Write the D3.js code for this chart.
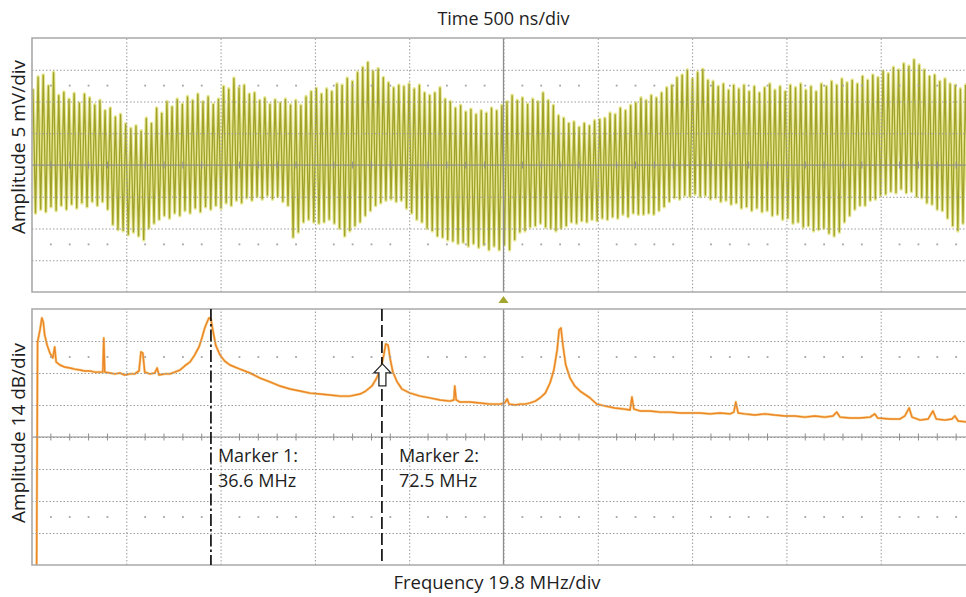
<!DOCTYPE html>
<html>
<head>
<meta charset="utf-8">
<script src="https://cdn.jsdelivr.net/npm/d3@7"></script>
<style>
  html, body { margin: 0; padding: 0; background: #ffffff; overflow: hidden; }
  svg { display: block; }
  text { font-family: "Open Sans", "Noto Sans", sans-serif; fill: #1e1e1e; }
</style>
</head>
<body>
<svg id="chart" width="966" height="597"></svg>
<script>
// ---------- Time domain: crest / trough of every 36.6 MHz cycle (mV) ----------
const waveHigh = [
  12.0, 13.9, 14.2, 12.5, 14.6, 11.0, 11.5, 10.4, 11.3, 9.8,
  11.2, 10.6, 9.5, 10.2, 8.6, 9.0, 7.6, 8.0, 6.5, 5.8,
  6.2, 5.4, 7.4, 6.6, 9.0, 8.2, 10.0, 9.2, 10.4, 9.6,
  10.8, 10.2, 11.2, 10.0, 10.8, 9.6, 10.4, 12.4, 12.0, 13.7,
  12.2, 12.6, 11.2, 11.4, 10.2, 10.6, 9.6, 10.3, 9.8, 10.4,
  9.5, 10.2, 9.4, 10.8, 11.6, 12.1, 11.2, 12.0, 11.6, 12.8,
  12.6, 13.7, 13.2, 14.6, 15.4, 16.2, 14.8, 15.2, 13.8, 13.0,
  12.2, 12.6, 12.4, 12.8, 12.0, 12.6, 11.4, 11.0, 11.4, 12.2,
  10.4, 10.0, 9.0, 9.4, 8.4, 8.8, 8.0, 8.6, 8.2, 9.0,
  8.6, 9.4, 10.0, 11.0, 10.2, 10.6, 9.6, 10.4, 10.0, 11.4,
  10.2, 9.4, 7.8, 7.4, 6.6, 6.8, 6.0, 6.6, 6.2, 7.0,
  7.2, 7.4, 8.2, 8.0, 9.0, 8.6, 9.4, 9.8, 10.6, 10.2,
  11.0, 10.6, 11.4, 12.2, 12.6, 13.8, 14.2, 15.0, 13.6, 14.6,
  15.1, 13.4, 13.2, 12.4, 12.8, 11.8, 12.6, 12.0, 12.6, 11.6,
  12.4, 11.4, 12.2, 12.8, 11.8, 12.4, 11.6, 12.6, 12.2, 12.8,
  11.8, 12.4, 11.6, 12.8, 12.4, 13.2, 12.6, 13.6, 13.0, 13.4,
  12.8, 14.0, 13.4, 14.2, 13.8, 14.8, 14.4, 15.4, 15.0, 16.0,
  15.6, 16.6, 15.8, 15.0, 14.0, 14.2, 13.2, 13.6, 12.8, 12.6,
  12.0, 12.6
];
const waveLow = [
  -7.6, -7.0, -7.4, -6.6, -7.2, -6.4, -7.0, -6.2, -6.8, -6.0,
  -6.6, -5.8, -6.4, -5.8, -7.0, -9.4, -10.2, -10.4, -11.0, -10.6,
  -11.2, -11.8, -10.0, -9.2, -8.6, -8.0, -8.4, -7.6, -8.0, -7.2,
  -7.6, -6.8, -7.4, -6.6, -7.0, -6.4, -6.8, -6.0, -6.4, -5.6,
  -6.0, -5.2, -5.6, -5.0, -5.4, -4.8, -5.4, -5.0, -5.8, -6.4,
  -11.4, -10.6, -9.0, -8.6, -9.0, -9.2, -9.0, -8.6, -9.2, -10.0,
  -11.2, -10.4, -9.6, -9.0, -8.0, -7.2, -6.4, -6.0, -5.6, -5.4,
  -5.8, -5.6, -6.8, -7.6, -8.6, -9.0, -10.0, -10.4, -11.2, -11.4,
  -11.8, -12.0, -12.4, -12.2, -12.8, -12.4, -13.0, -12.6, -13.4, -12.8,
  -13.4, -12.6, -13.4, -11.8, -10.6, -10.4, -9.8, -9.6, -9.2, -9.8,
  -10.0, -10.4, -10.0, -9.6, -9.0, -9.2, -8.8, -9.0, -8.6, -8.8,
  -8.4, -8.6, -8.2, -8.4, -7.8, -8.2, -7.6, -7.8, -7.8, -7.6,
  -7.8, -7.2, -6.6, -5.8, -5.2, -5.4, -4.8, -5.0, -4.6, -5.0,
  -4.8, -5.4, -5.2, -5.8, -5.6, -6.2, -6.0, -6.8, -6.6, -7.2,
  -6.8, -7.4, -7.2, -8.0, -7.8, -8.6, -8.4, -9.2, -9.0, -9.8,
  -9.6, -10.4, -10.2, -10.0, -10.8, -11.2, -10.6, -9.0, -8.0, -7.0,
  -6.4, -6.4, -5.6, -5.4, -4.8, -4.6, -4.2, -4.4, -3.8, -4.4,
  -4.2, -5.0, -5.2, -6.0, -6.2, -7.0, -7.2, -8.4, -9.6, -10.4,
  -9.2, -8.2
];
const cyclePeriodNs = 27.32;   // 1 / 36.6 MHz
const firstCrestNs = 5;
const timeTicksNs = [0, 500, 1000, 1500, 2000, 2500, 3000, 3500, 4000, 4500, 5000];
const voltTicksMv = [-20, -15, -10, -5, 0, 5, 10, 15, 20];

// ---------- Frequency domain: spectrum trace ----------
const spectrumFreq = [
  0, 0.2, 0.7, 1.1, 1.4, 1.7, 2.2, 2.8, 3.4, 3.8,
  4.1, 4.9, 5.9, 7.0, 8.0, 9.1, 10.1, 11.2, 12.2, 13.3,
  13.9, 14.1, 14.3, 15.4, 16.4, 17.5, 18.5, 19.6, 20.6, 21.5,
  21.9, 22.3, 22.7, 23.8, 24.8, 25.3, 25.7, 26.9, 28.0, 29.0,
  30.1, 31.1, 32.2, 33.2, 34.1, 34.7, 35.3, 35.8, 36.2, 36.6,
  37.0, 37.6, 38.5, 39.5, 40.6, 42.7, 44.8, 46.9, 49.0, 51.1,
  53.2, 55.3, 57.4, 59.5, 61.6, 63.7, 65.8, 67.9, 69.1, 70.4,
  71.4, 72.3, 72.9, 73.3, 73.8, 74.2, 74.8, 75.7, 76.7, 78.4,
  80.5, 82.6, 84.7, 86.8, 87.6, 87.8, 88.1, 88.9, 91.0, 93.1,
  95.2, 97.3, 98.3, 98.8, 99.2, 100.5, 101.5, 102.6, 103.6, 104.7,
  105.7, 106.8, 107.8, 108.6, 109.3, 109.7, 110.1, 110.5, 111.1, 112.0,
  113.0, 114.1, 116.2, 117.6, 119.3, 121.4, 123.5, 124.6, 125.0, 125.4,
  126.7, 128.8, 130.9, 133.0, 135.1, 137.2, 139.3, 141.4, 143.5, 145.6,
  146.4, 146.8, 147.3, 148.7, 150.8, 152.9, 155.0, 157.1, 159.2, 161.3,
  163.4, 165.5, 167.2, 168.0, 168.7, 170.8, 172.9, 175.0, 176.0, 176.6,
  179.2, 181.3, 182.3, 183.2, 183.8, 185.5, 187.2, 188.2, 188.9, 190.7,
  192.2, 192.8, 193.5, 195.2, 197.0
];
const spectrumDb = [
  -112, -14.4, -9.2, -3.9, -5.7, -11.4, -15.8, -19.3, -21.4, -16.6,
  -23.2, -24.5, -25.4, -25.8, -26.3, -26.7, -27.1, -27.1, -27.6, -27.6,
  -27.6, -12.7, -27.6, -28.0, -28.4, -28.0, -28.9, -28.4, -28.4, -27.1,
  -18.8, -19.3, -27.6, -28.4, -28.0, -25.8, -28.9, -28.4, -28.4, -27.6,
  -26.7, -24.9, -23.2, -20.1, -16.6, -12.7, -8.3, -5.7, -3.9, -4.4,
  -9.2, -15.8, -20.1, -22.8, -24.5, -26.3, -28.0, -30.2, -31.9, -33.7,
  -35.0, -35.9, -36.8, -37.2, -37.6, -38.1, -38.1, -37.2, -35.9, -33.7,
  -30.2, -25.8, -20.1, -15.3, -15.8, -21.4, -27.6, -31.9, -35.0, -36.8,
  -38.1, -38.9, -39.8, -40.3, -39.8, -33.7, -39.8, -40.7, -40.7, -41.1,
  -41.6, -41.6, -41.1, -39.4, -41.6, -42.0, -41.6, -41.6, -41.1, -40.3,
  -38.9, -36.8, -32.4, -26.7, -17.9, -9.2, -8.3, -15.8, -24.5, -30.2,
  -33.7, -35.9, -38.9, -41.6, -42.4, -43.3, -43.8, -44.2, -38.5, -43.8,
  -44.6, -44.6, -45.1, -45.1, -45.5, -45.5, -45.5, -45.9, -45.5, -45.9,
  -45.1, -40.7, -45.5, -45.9, -46.4, -45.9, -46.4, -46.8, -46.8, -47.3,
  -46.8, -47.3, -46.8, -45.1, -47.3, -47.7, -47.7, -47.3, -45.9, -47.7,
  -48.1, -48.1, -46.8, -43.3, -47.3, -48.6, -48.1, -44.6, -48.1, -48.6,
  -48.1, -46.8, -49.0, -49.4, -49.9
];
const freqTicksMhz = [-0.97, 18.83, 38.63, 58.43, 78.23, 98.03, 117.83, 137.63, 157.43, 177.23, 197.03];
const dbTicks = [-112, -98, -84, -70, -56, -42, -28, -14, 0];

const markerFreq = [36.6, 72.5];
const markerName = ["Marker 1:", "Marker 2:"];
const cursorDb = -24;

const timeTitle = "Time 500 ns/div";
const freqTitle = "Frequency 19.8 MHz/div";
const voltTitle = "Amplitude 5 mV/div";
const dbTitle = "Amplitude 14 dB/div";

// ---------- layout ----------
const plotLeft = 32, plotRight = 975;
const topPanel = { y0: 38, y1: 292 };
const botPanel = { y0: 309, y1: 565 };

const svg = d3.select("#chart");

const xTime = d3.scaleLinear().domain([0, 5000]).range([plotLeft, plotRight]);
const yWave = d3.scaleLinear().domain([-20, 20]).range([topPanel.y1, topPanel.y0]);
const xFreq = d3.scaleLinear().domain([-0.97, 197.03]).range([plotLeft, plotRight]);
const yDb = d3.scaleLinear().domain([-112, 0]).range([botPanel.y1, botPanel.y0]);

const defs = svg.append("defs");
defs.append("clipPath").attr("id", "clipTop").append("rect")
  .attr("x", plotLeft).attr("y", topPanel.y0)
  .attr("width", plotRight - plotLeft).attr("height", topPanel.y1 - topPanel.y0);
defs.append("clipPath").attr("id", "clipBot").append("rect")
  .attr("x", plotLeft).attr("y", botPanel.y0)
  .attr("width", plotRight - plotLeft).attr("height", botPanel.y1 - botPanel.y0);

const gridColor = "#9b9b9b";
const frameColor = "#a9a9a9";
const axisColor = "#8d8d8d";

// ---------- time-domain trace ----------
const wavePoints = [];
waveHigh.forEach((v, i) => {
  const t = firstCrestNs + i * cyclePeriodNs;
  wavePoints.push([t, v]);
  wavePoints.push([t + cyclePeriodNs / 2, waveLow[i]]);
});
const waveLine = d3.line().x(d => xTime(d[0])).y(d => yWave(d[1]));
const gWave = svg.append("g").attr("clip-path", "url(#clipTop)");
gWave.append("path").datum(wavePoints)
  .attr("d", waveLine).attr("fill", "none")
  .attr("stroke", "#e6e690").attr("stroke-width", 3.4).attr("stroke-linejoin", "round");
gWave.append("path").datum(wavePoints)
  .attr("d", waveLine).attr("fill", "none")
  .attr("stroke", "#9fa12a").attr("stroke-width", 1.3).attr("stroke-linejoin", "miter");

// ---------- graticules ----------
function graticule(xScale, xTicks, yScale, yTicks, panel, centerX, centerY) {
  const g = svg.append("g");
  const h = panel.y1 - panel.y0;
  // vertical dotted division lines
  g.append("g")
    .attr("transform", `translate(0,${panel.y1})`)
    .call(d3.axisBottom(xScale).tickValues(xTicks.slice(1, -1)).tickSize(-h).tickFormat(""))
    .call(a => a.select(".domain").remove())
    .call(a => a.selectAll(".tick line").attr("stroke", gridColor).attr("stroke-dasharray", "1.5,2").attr("stroke-width", 1));
  // horizontal dotted division lines
  g.append("g")
    .attr("transform", `translate(${plotLeft},0)`)
    .call(d3.axisLeft(yScale).tickValues(yTicks.slice(1, -1)).tickSize(-(plotRight - plotLeft)).tickFormat(""))
    .call(a => a.select(".domain").remove())
    .call(a => a.selectAll(".tick line").attr("stroke", gridColor).attr("stroke-dasharray", "1.5,2").attr("stroke-width", 1));

  // minor dot rows
  const xStep = (xTicks[1] - xTicks[0]) / 5;
  const yStep = (yTicks[1] - yTicks[0]);
  const minor = d3.range(0, 50).map(k => xTicks[0] + k * xStep).filter((v, k) => k % 5 !== 0);
  const dotRows = [yTicks[yTicks.length - 1] - 1.5 * yStep, yTicks[0] + 1.5 * yStep];
  dotRows.forEach(r => {
    g.selectAll(null).data(minor).enter().append("rect")
      .attr("x", d => xScale(d) - 0.9).attr("y", yScale(r) - 0.9)
      .attr("width", 1.8).attr("height", 1.8).attr("fill", "#a4a4a4");
  });

  // solid centre axes with minor ticks
  g.append("line")
    .attr("x1", plotLeft).attr("x2", plotRight)
    .attr("y1", yScale(centerY)).attr("y2", yScale(centerY))
    .attr("stroke", axisColor).attr("stroke-width", 1.2);
  g.selectAll(null).data(minor).enter().append("line")
    .attr("x1", d => xScale(d)).attr("x2", d => xScale(d))
    .attr("y1", yScale(centerY) - 3.5).attr("y2", yScale(centerY) + 3.5)
    .attr("stroke", axisColor).attr("stroke-width", 1);
  g.append("line")
    .attr("x1", xScale(centerX)).attr("x2", xScale(centerX))
    .attr("y1", panel.y0).attr("y2", panel.y1)
    .attr("stroke", axisColor).attr("stroke-width", 1.3);

  // frame
  g.append("path")
    .attr("d", `M${plotRight},${panel.y0}H${plotLeft}V${panel.y1}H${plotRight}`)
    .attr("fill", "none").attr("stroke", frameColor).attr("stroke-width", 1.6);
}

graticule(xTime, timeTicksNs, yWave, voltTicksMv, topPanel, 2500, 0);

// ---------- spectrum trace ----------
const specPoints = spectrumFreq.map((f, i) => [f, spectrumDb[i]]);
const specLine = d3.line().x(d => xFreq(d[0])).y(d => yDb(d[1]));
const gSpec = svg.append("g").attr("clip-path", "url(#clipBot)");
gSpec.append("path").datum(specPoints)
  .attr("d", specLine).attr("fill", "none")
  .attr("stroke", "#f6cf8c").attr("stroke-width", 2.6).attr("stroke-linejoin", "round");
gSpec.append("path").datum(specPoints)
  .attr("d", specLine).attr("fill", "none")
  .attr("stroke", "#ec8626").attr("stroke-width", 1.4).attr("stroke-linejoin", "round");

graticule(xFreq, freqTicksMhz, yDb, dbTicks, botPanel, 98.03, -56);

// ---------- trigger marker between panels ----------
const tx = xTime(2500);
svg.append("path")
  .attr("d", `M${tx},296 L${tx + 5},303 L${tx - 5},303 Z`)
  .attr("fill", "#a3a52e");

// ---------- frequency markers ----------
const markerDash = ["12,3,2.5,3", "12,4"];
const labelOffset = [7, 17];
const gMark = svg.append("g");
markerFreq.forEach((f, i) => {
  const mx = xFreq(f);
  gMark.append("line")
    .attr("x1", mx).attr("x2", mx)
    .attr("y1", botPanel.y0).attr("y2", botPanel.y1)
    .attr("stroke", "#111").attr("stroke-width", 1.7)
    .attr("stroke-dasharray", markerDash[i]);
  gMark.append("text")
    .attr("x", mx + labelOffset[i]).attr("y", 462)
    .attr("font-size", 18)
    .text(markerName[i]);
  gMark.append("text")
    .attr("x", mx + labelOffset[i]).attr("y", 487)
    .attr("font-size", 18)
    .text(`${f.toFixed(1)} MHz`);
});

// cursor arrow on marker 2
const cx = xFreq(markerFreq[1]) + 0.5, cy = yDb(cursorDb);
gMark.append("path")
  .attr("d", `M${cx},${cy} L${cx + 8.5},${cy + 9} L${cx + 3.5},${cy + 9} L${cx + 3.5},${cy + 22} L${cx - 3.5},${cy + 22} L${cx - 3.5},${cy + 9} L${cx - 8.5},${cy + 9} Z`)
  .attr("fill", "#ffffff").attr("stroke", "#2a2a2a").attr("stroke-width", 1.3);

// ---------- titles ----------
svg.append("text").attr("x", xTime(2500)).attr("y", 25)
  .attr("text-anchor", "middle").attr("font-size", 18).text(timeTitle);
svg.append("text").attr("x", 497).attr("y", 589)
  .attr("text-anchor", "middle").attr("font-size", 18.5).text(freqTitle);
svg.append("text").attr("transform", `translate(25,147) rotate(-90)`)
  .attr("text-anchor", "middle").attr("font-size", 19).text(voltTitle);
svg.append("text").attr("transform", `translate(25,433) rotate(-90)`)
  .attr("text-anchor", "middle").attr("font-size", 19).text(dbTitle);
</script>
</body>
</html>
